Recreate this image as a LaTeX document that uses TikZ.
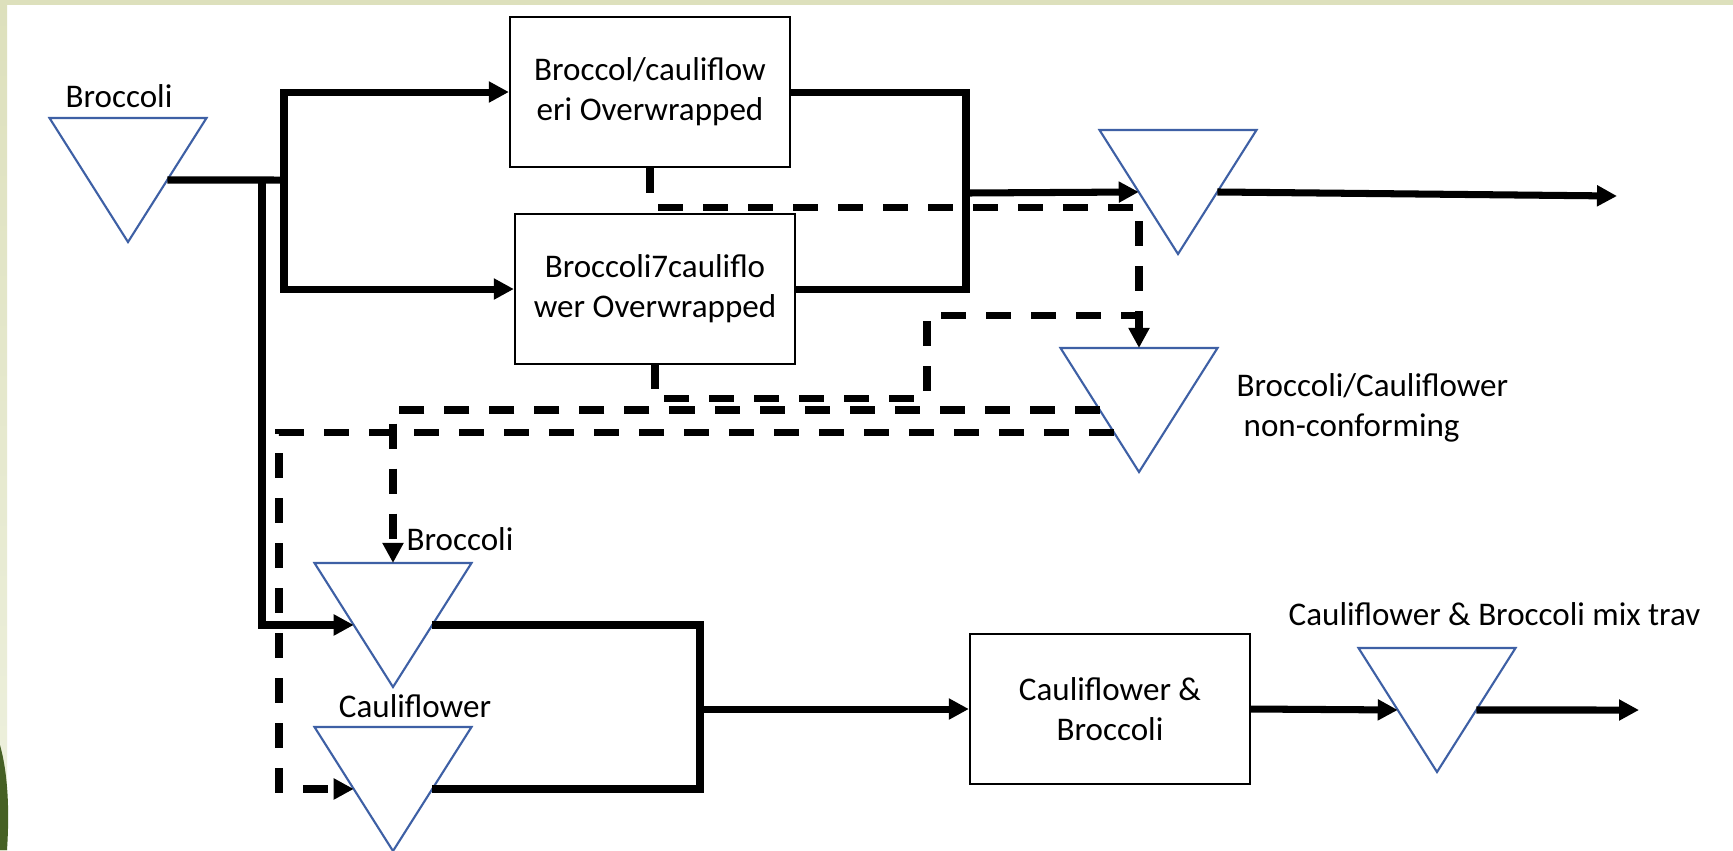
\documentclass[tikz,border=0pt]{standalone}
\usepackage{fontspec}
\setmainfont{Carlito}
\usetikzlibrary{shapes.geometric,arrows.meta,calc}
\definecolor{triblue}{RGB}{62,96,165}
\definecolor{frameolive}{RGB}{221,224,188}
\definecolor{framepale}{RGB}{238,241,223}
\definecolor{leafgreen}{RGB}{70,96,36}
\tikzset{
  flow/.style={line width=2pt},
  arr/.style={-{Triangle[length=0.2cm,width=0.2cm]}},
  reject/.style={line width=2pt, dash pattern=on 0.25cm off 0.2cm},
}
\begin{document}
\begin{tikzpicture}[x=0.01cm, y=-0.01cm, font=\fontsize{9.4pt}{11.4pt}\selectfont]

        \fill[white] (0,0) rectangle (1733,850);
        \fill[frameolive] (0,0) rectangle (1733,5);
        \shade[top color=frameolive, bottom color=framepale] (0,0) rectangle (7,850);
        \fill[leafgreen] (0,745) .. controls (7,770) and (10,805) .. (7,850) -- (0,850) -- cycle;
        \useasboundingbox (0,0) rectangle (1733,850);

        \begin{scope}[every node/.style={isosceles triangle, isosceles triangle stretches,
            shape border rotate=270, minimum width=1.57cm, minimum height=1.24cm,
            draw=triblue, line width=0.6pt, inner sep=0pt, outer sep=0pt, anchor=apex}]
          \node (t1) at (128,242)  {};
          \node (t2) at (1178,254) {};
          \node (t3) at (1139,472) {};
          \node (t4) at (393,687)  {};
          \node (t5) at (393,851)  {};
          \node (t6) at (1437,772) {};
        \end{scope}

        \begin{scope}[every node/.style={draw, line width=0.6pt, minimum width=2.8cm,
            minimum height=1.5cm, align=center, inner sep=0pt}]
          \node (b1) at (650,92)   {Broccol/cauliflow\\eri Overwrapped};
          \node (b2) at (655,289)  {Broccoli7cauliflo\\wer Overwrapped};
          \node (b3) at (1110,709) {Cauliflower \&\\Broccoli};
        \end{scope}

        \begin{scope}[every node/.style={inner sep=0pt}]
          \node[anchor=base] (l1) at (119,107) {Broccoli};
          \node[anchor=west, align=left] (l3) at (1236,408) {Broccoli/Cauliflower\\\hspace{0.07cm}non-conforming};
          \node[anchor=base west] (l4) at (406,550) {Broccoli};
          \node[anchor=base] (l5) at (415,717) {Cauliflower};
          \node[anchor=base west] (l6) at (1288,625) {Cauliflower \& Broccoli mix trav};
        \end{scope}

        \coordinate (j0) at (262,180);
        \coordinate (j1) at (284,180);
        \coordinate (j2) at (966,193);
        \coordinate (j3) at (700,709);
        \coordinate (e1) at (1617,196);
        \coordinate (e2) at (1639,710);
        \coordinate (d1) at (658,207);
        \coordinate (d2) at (664,398);
        \coordinate (c2) at (927,315);
        \coordinate (c3) at (279,0);
        \coordinate (x3) at ($(t3.apex)!0.315!(t3.right corner)$);

        \begin{scope}[flow]
          \draw (t1.left side) -- (j1);
          \draw[arr] (j1) |- (b1.west);
          \draw[arr] (j1) |- (b2.west);
          \draw[arr] (j0) |- (t4.right side);
          \draw (b1.east) -| (j2);
          \draw (b2.east) -| (j2);
          \draw[arr] (j2) -- (t2.right side);
          \draw[arr] (t2.left side) -- (e1);
          \draw (b1.south) -- ++(0,25);
          \draw (b2.south) -- ++(0,24);
          \draw (t4.left side) -| (j3) |- (t5.left side);
          \draw[arr] (j3) -- (b3.west);
          \draw[arr] (b3.east) -- (t6.right side);
          \draw[arr] (t6.left side) -- (e2);
        \end{scope}

        \begin{scope}[reject]
          \draw[arr] (d1) -| (t3.lower side);
          \draw (d2) -| (c2) -- (c2 -| t3.lower side);
          \draw[arr] (t3.right side) -| (t4.lower side);
          \draw[arr] (x3) -| (c3 |- t5.right side) -- (t5.right side);
        \end{scope}

      \end{tikzpicture}
\end{document}
